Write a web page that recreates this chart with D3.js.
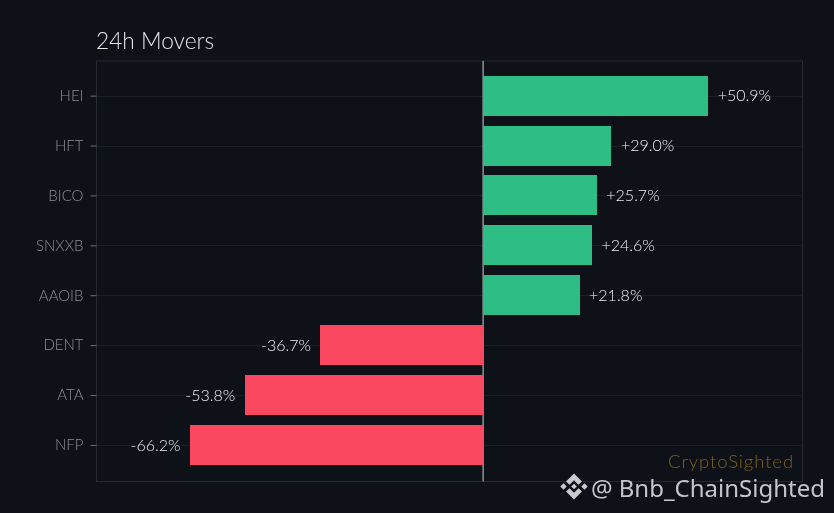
<!DOCTYPE html>
<html>
<head>
<meta charset="utf-8">
<script src="https://cdn.jsdelivr.net/npm/d3@7"></script>
<style>
html,body{margin:0;padding:0;background:#0e1118;}
svg{display:block;}
.soft{filter:brightness(0.999);}
</style>
</head>
<body>
<svg id="c" width="834" height="513"></svg>
<script>
const categories = ["HEI","HFT","BICO","SNXXB","AAOIB","DENT","ATA","NFP"];
const values = [50.9,29.0,25.7,24.6,21.8,-36.7,-53.8,-66.2];
const labels = ["+50.9%","+29.0%","+25.7%","+24.6%","+21.8%","-36.7%","-53.8%","-66.2%"];
const xDomain = [-87.4,72.2];
const title = "24h Movers";
const credit = "CryptoSighted";
const watermark = "@ Bnb_ChainSighted";

const W=834,H=513,L=96.5,R=802.5,T=61,B=481.5;
const FONT="Lato, 'Open Sans', sans-serif";
const svg=d3.select("#c");
svg.append("rect").attr("width",W).attr("height",H).attr("fill","#0e1118");

const x=d3.scaleLinear().domain(xDomain).range([L,R]);
const y=d3.scalePoint().domain(categories).range([60.7,479.86]).padding(0.7);
const barH=40;

// frame and grid
svg.append("g").selectAll("line").data(categories).join("line")
  .attr("x1",L).attr("x2",R)
  .attr("y1",d=>Math.round(y(d))+0.5).attr("y2",d=>Math.round(y(d))+0.5)
  .attr("stroke","#1a1e26").attr("stroke-width",1);
svg.append("rect").attr("x",L).attr("y",T).attr("width",R-L).attr("height",B-T)
  .attr("fill","none").attr("stroke","#252932").attr("stroke-width",1);

// axis
const axisG=svg.append("g").attr("class","soft").attr("transform",`translate(${L},0)`)
  .call(d3.axisLeft(y).tickSize(6).tickPadding(7));
axisG.select(".domain").remove();
axisG.selectAll(".tick line").attr("stroke","#6b6e74").attr("stroke-width",1);
axisG.selectAll(".tick text").attr("fill","#8b8e93").attr("font-family",FONT)
  .attr("font-weight",300).attr("font-size",15);

// zero line
svg.append("line").attr("x1",x(0)).attr("x2",x(0)).attr("y1",T).attr("y2",B)
  .attr("stroke","#8f9297").attr("stroke-width",1.5);

// bars
const rows=categories.map((c,i)=>({c,v:values[i],l:labels[i]}));
const edge=v=>v>=0?Math.round(x(v)):Math.floor(x(v));
svg.append("g").selectAll("rect").data(rows).join("rect")
  .attr("x",d=>d.v>=0?x(0):edge(d.v))
  .attr("width",d=>Math.abs(edge(d.v)-x(0)))
  .attr("y",d=>Math.round(y(d.c)-barH/2)).attr("height",barH)
  .attr("fill",d=>d.v>=0?"#2ebd85":"#f9485f");

// value labels
svg.append("g").attr("class","soft").selectAll("text").data(rows).join("text")
  .attr("x",d=>d.v>=0?x(d.v)+9.5:x(d.v)-9.8)
  .attr("y",d=>y(d.c))
  .attr("dy","0.35em")
  .attr("text-anchor",d=>d.v>=0?"start":"end")
  .attr("font-family",FONT).attr("font-weight",300).attr("font-size",16)
  .attr("fill","#ecedef").text(d=>d.l);

// title
svg.append("g").attr("class","soft").append("text").attr("x",96).attr("y",49)
  .attr("font-family",FONT).attr("font-weight",300).attr("font-size",22.7)
  .attr("fill","#e4e5e7").text(title);

// credit
svg.append("g").attr("class","soft").append("text").attr("x",794).attr("y",468).attr("text-anchor","end")
  .attr("font-family",FONT).attr("font-weight",300).attr("font-size",18.5).attr("letter-spacing",0.9)
  .attr("fill","#7a6118").text(credit);

// watermark
svg.append("g").attr("class","soft").append("text").attr("x",825).attr("y",496.5).attr("text-anchor","end")
  .attr("font-family","'Noto Sans','Open Sans',sans-serif").attr("font-size",24)
  .attr("fill","#c4c6ca").text(watermark);

// watermark logo
const logo=svg.append("g").attr("transform","translate(574,486.5)").attr("fill","#c9cbce");
logo.append("path").attr("d","M0,-13L8,-5L4.5,-1.8L0,-6.3L-4.5,-1.8L-8,-5Z");
logo.append("path").attr("d","M0,13L8,5L4.5,1.8L0,6.3L-4.5,1.8L-8,5Z");
logo.append("path").attr("d","M0,-2.8L2.8,0L0,2.8L-2.8,0Z");
logo.append("path").attr("d","M-10.5,-3.2L-7.3,0L-10.5,3.2L-13.7,0Z");
logo.append("path").attr("d","M10.5,-3.2L13.7,0L10.5,3.2L7.3,0Z");
</script>
</body>
</html>
